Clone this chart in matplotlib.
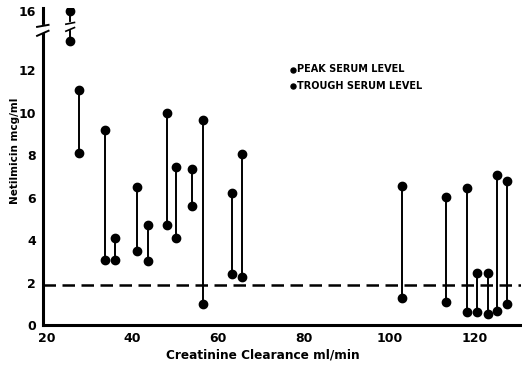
import numpy as np
import matplotlib
matplotlib.use("Agg")
import matplotlib.pyplot as plt

# ---- data ----
clearance = [25.4, 27.5, 33.6, 35.9, 41.1, 43.5, 48.1, 50.1, 53.8, 56.4, 63.2, 65.6,
             103.1, 113.2, 118.3, 120.6, 123.1, 125.3, 127.5]
peak = [16.0, 11.1, 9.2, 4.1, 6.5, 4.7, 10.0, 7.45, 7.35, 9.65, 6.2, 8.05,
        6.55, 6.05, 6.45, 2.45, 2.45, 7.05, 6.8]
trough = [13.4, 8.1, 3.05, 3.05, 3.5, 3.0, 4.7, 4.1, 5.6, 1.0, 2.4, 2.25,
          1.25, 1.1, 0.6, 0.6, 0.5, 0.65, 1.0]
threshold = 1.9
xticks = [20, 40, 60, 80, 100, 120]
yticks = [0, 2, 4, 6, 8, 10, 12, 16]

BREAK = 14.0
SQUEEZE = 0.4


def fwd(v):
    v = np.asarray(v, dtype=float)
    return np.where(v <= BREAK, v, BREAK + (v - BREAK) * SQUEEZE)


def inv(d):
    d = np.asarray(d, dtype=float)
    return np.where(d <= BREAK, d, BREAK + (d - BREAK) / SQUEEZE)


fig = plt.figure(figsize=(5.22, 3.66), dpi=100)
ax = fig.add_axes([0.082, 0.112, 0.916, 0.866])
ax.set_yscale('function', functions=(fwd, inv))

# connecting lines
for x, p, t in zip(clearance, peak, trough):
    ax.plot([x, x], [t, p], color='black', lw=1.4, zorder=2)

ax.scatter(clearance, peak, s=36, color='black', zorder=3, label='PEAK SERUM LEVEL')
ax.scatter(clearance, trough, s=36, color='black', zorder=3, label='TROUGH SERUM LEVEL')

ax.axhline(threshold, color='black', lw=1.8, dashes=(5, 2.6), zorder=1)

ax.set_xlim(19.0, 130.8)
ax.set_ylim(0, 16.35)
ax.set_xticks(xticks)
ax.set_yticks(yticks)
ax.set_xticklabels([str(v) for v in xticks], fontsize=9, fontweight='heavy')
ax.set_yticklabels([str(v) for v in yticks], fontsize=9, fontweight='heavy')
ax.tick_params(length=0, pad=5)

for s in ['top', 'right']:
    ax.spines[s].set_visible(False)
for s in ['left', 'bottom']:
    ax.spines[s].set_linewidth(2.2)

ax.set_xlabel('Creatinine Clearance ml/min', fontsize=8.7, fontweight='heavy')
ax.xaxis.set_label_coords(0.46, -0.075)
ax.set_ylabel('Netilmicin mcg/ml', fontsize=7.5, fontweight='heavy')
ax.yaxis.set_label_coords(-0.048, 0.55)

# axis break marks
trans = ax.get_yaxis_transform()
for yv in (13.75, 14.25):
    ax.plot([-0.012, 0.012], [yv - 0.12, yv + 0.12], color='black', lw=1.4,
            transform=trans, clip_on=False, zorder=5)
ax.plot([0, 0], [13.85, 14.15], color='white', lw=3, transform=trans,
        clip_on=False, zorder=4)

# break on the first data line
x0 = clearance[0]
ax.plot([x0, x0], [14.0, 14.5], color='white', lw=3, zorder=2.5)
for yv in (13.95, 14.55):
    ax.plot([x0 - 1.0, x0 + 1.0], [yv - 0.1, yv + 0.1], color='black', lw=1.2, zorder=2.6)

leg = ax.legend(loc='upper left', bbox_to_anchor=(0.51, 0.835), frameon=False,
                markerscale=0.6, handletextpad=0.1, handlelength=0.6,
                borderaxespad=0, labelspacing=0.65,
                prop={'size': 7, 'weight': 'heavy'})

fig.savefig('out.png', dpi=100)
